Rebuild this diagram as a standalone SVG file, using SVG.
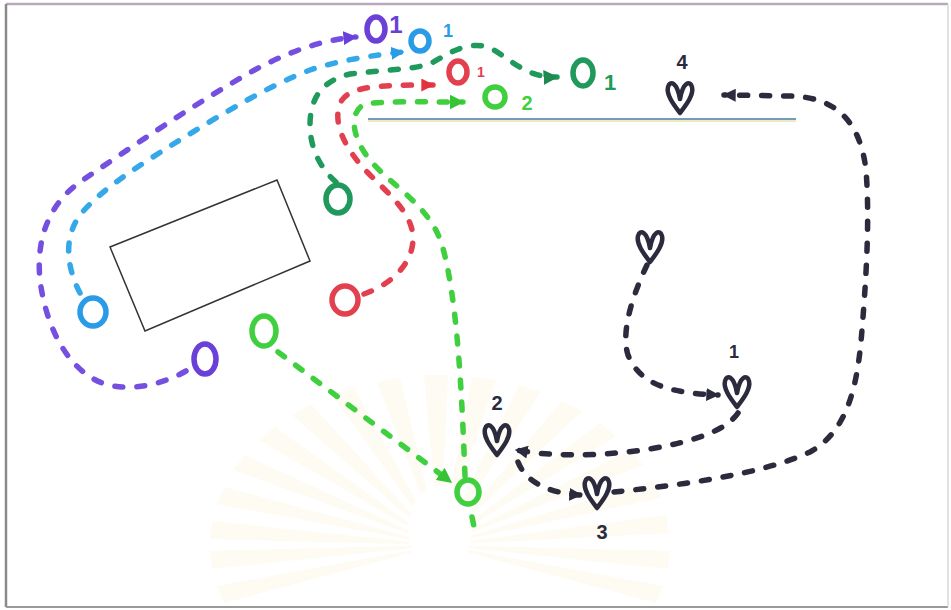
<svg xmlns="http://www.w3.org/2000/svg" xmlns:xlink="http://www.w3.org/1999/xlink" width="951" height="610" viewBox="0 0 951 610">
<style>
.o{fill:none;stroke-width:5.5}
.d{fill:none;stroke-width:5.5;stroke-linecap:round;stroke-dasharray:8 14}
.lbl{font-family:"Liberation Sans",Arial,sans-serif;font-weight:bold;text-anchor:middle}
.pu{stroke:#7550e0}.bl{stroke:#35a8ea}.dg{stroke:#1f9a5c}.rd{stroke:#e2404e}.lg{stroke:#3fcf3f}.bk{stroke:#2b2b3d}
</style>
<defs>
<path id="heart" d="M0,16 C-6,8 -14,-2 -12,-10 C-10,-17 -3,-15 0,2 C3,-15 10,-17 12,-10 C14,-2 6,8 0,16 Z" fill="none" stroke="#2b2b3d" stroke-width="4.5" stroke-linejoin="round"/>
<marker id="aPu" viewBox="0 0 10 10" refX="9" refY="5" markerUnits="userSpaceOnUse" markerWidth="14" markerHeight="14" orient="auto"><path d="M0,0 L10,5 L0,10 z" fill="#6a40d8"/></marker>
<marker id="aBl" viewBox="0 0 10 10" refX="9" refY="5" markerUnits="userSpaceOnUse" markerWidth="13" markerHeight="13" orient="auto"><path d="M0,0 L10,5 L0,10 z" fill="#2a9be6"/></marker>
<marker id="aDg" viewBox="0 0 10 10" refX="9" refY="5" markerUnits="userSpaceOnUse" markerWidth="15" markerHeight="15" orient="auto"><path d="M0,0 L10,5 L0,10 z" fill="#1f8a50"/></marker>
<marker id="aRd" viewBox="0 0 10 10" refX="9" refY="5" markerUnits="userSpaceOnUse" markerWidth="13" markerHeight="13" orient="auto"><path d="M0,0 L10,5 L0,10 z" fill="#e63040"/></marker>
<marker id="aLg" viewBox="0 0 10 10" refX="9" refY="5" markerUnits="userSpaceOnUse" markerWidth="15" markerHeight="15" orient="auto"><path d="M0,0 L10,5 L0,10 z" fill="#36c436"/></marker>
<marker id="aBk" viewBox="0 0 10 10" refX="9" refY="5" markerUnits="userSpaceOnUse" markerWidth="13" markerHeight="13" orient="auto"><path d="M0,0 L10,5 L0,10 z" fill="#2b2b3d"/></marker>
</defs>
<rect x="0" y="0" width="951" height="610" fill="#ffffff"/>
<g id="watermark" fill="#fdfbf2">
<path d="M440,545 L210,539 L212,521 Z M440,545 L217,504 L224,487 Z M440,545 L233,470 L245,455 Z M440,545 L259,440 L275,427 Z M440,545 L292,415 L311,404 Z M440,545 L332,395 L354,387 Z M440,545 L377,382 L400,378 Z M440,545 L424,375 L448,375 Z M440,545 L472,377 L496,380 Z M440,545 L519,385 L541,392 Z M440,545 L562,401 L582,411 Z M440,545 L600,423 L616,436 Z M440,545 L631,450 L643,465 Z M440,545 L653,481 L661,498 Z M440,545 L666,515 L669,533 Z M440,545 L670,551 L668,569 Z M440,545 L663,586 L656,603 Z M440,545 L212,569 L210,551 Z M440,545 L224,603 L217,586 Z"/>
<ellipse cx="440" cy="530" rx="32" ry="45" fill="#ffffff"/>
</g>
<g id="frame" fill="none">
<line x1="6" y1="4" x2="948" y2="4" stroke="#b9a8bb" stroke-width="2.5"/>
<line x1="6" y1="4" x2="6" y2="607" stroke="#8a8a8a" stroke-width="2.5"/>
<line x1="6" y1="607" x2="948" y2="607" stroke="#9a9a9a" stroke-width="2"/>
<line x1="948" y1="4" x2="948" y2="607" stroke="#d8d8d8" stroke-width="1.5"/>
</g>
<g id="table">
<polygon points="110,247 277,180 310,261 145,331" fill="none" stroke="#333" stroke-width="1.5"/>
</g>
<g id="counter">
<line x1="368" y1="119" x2="796" y2="119" stroke="#6f9fb8" stroke-width="2"/>
<line x1="368" y1="121" x2="796" y2="121" stroke="#e6d27a" stroke-width="1"/>
</g>
<g id="connectors">
<path class="d pu" d="M186,371 C160,386 120,395 92,378 C62,360 45,320 40,280 C36,240 48,205 80,182 C130,148 200,100 260,67 C290,52 320,40 356,37" marker-end="url(#aPu)"/>
<path class="d bl" d="M80,293 C68,270 62,240 80,215 C100,190 140,165 175,143 C220,115 270,85 310,70 C340,60 375,55 403,52" marker-end="url(#aBl)"/>
<path class="d dg" d="M336,182 C322,170 310,150 310,125 C310,95 325,80 350,74 C380,70 410,70 430,64 C450,52 470,40 490,48 C510,58 525,78 557,77" marker-end="url(#aDg)"/>
<path class="d rd" d="M364,294 C390,285 412,265 413,240 C414,215 390,195 370,175 C345,150 330,120 342,100 C352,86 380,85 433,85" marker-end="url(#aRd)"/>
<path class="d lg" d="M465,476 C462,400 458,300 442,245 C430,205 390,185 370,160 C352,138 348,112 365,104 C380,101 420,102 463,102" marker-end="url(#aLg)"/>
<path class="d lg" d="M472,517 L476,536"/>
<path class="d lg" d="M278,352 L451,482" marker-end="url(#aLg)"/>
<path class="d bk" d="M647,265 C635,290 620,330 628,355 C640,385 670,393 718,395" marker-end="url(#aBk)"/>
<path class="d bk" d="M738,413 C725,432 690,442 650,449 C610,455 560,458 516,450" marker-end="url(#aBk)"/>
<path class="d bk" d="M518,462 C525,480 545,493 581,495" marker-end="url(#aBk)"/>
<path class="d bk" d="M614,492 C680,485 760,475 810,452 C850,430 858,380 862,330 C866,280 870,220 866,170 C860,120 835,97 790,96 L724,95" marker-end="url(#aBk)"/>
</g>
<g id="o-purple-top"><ellipse class="o" cx="376" cy="29" rx="9" ry="12" stroke="#6a40d8"/><text class="lbl" x="396" y="33" font-size="24" fill="#6a40d8">1</text></g>
<g id="o-blue-top"><ellipse class="o" cx="420" cy="41" rx="9" ry="10" stroke="#2a9be6"/><text class="lbl" x="448" y="37" font-size="18" fill="#2a9be6">1</text></g>
<g id="o-red-top"><ellipse class="o" cx="458" cy="72" rx="9" ry="11" stroke="#e2404e"/><text class="lbl" x="481" y="77" font-size="14" fill="#e2404e">1</text></g>
<g id="o-darkgreen-top"><ellipse class="o" cx="583" cy="73" rx="10" ry="13" stroke="#1f9a5c"/><text class="lbl" x="610" y="90" font-size="22" fill="#1f9a5c">1</text></g>
<g id="o-lightgreen-top"><ellipse class="o" cx="495" cy="97" rx="10" ry="10" stroke="#3fcf3f"/><text class="lbl" x="527" y="110" font-size="20" fill="#3fcf3f">2</text></g>
<g id="o-blue"><ellipse class="o" cx="93" cy="312" rx="13" ry="14" stroke="#2a9be6"/></g>
<g id="o-purple"><ellipse class="o" cx="205" cy="359" rx="11" ry="15" stroke="#6a40d8"/></g>
<g id="o-darkgreen"><ellipse class="o" cx="338" cy="199" rx="12" ry="14" stroke="#1f9a5c"/></g>
<g id="o-red"><ellipse class="o" cx="345" cy="300" rx="13" ry="14" stroke="#e2404e"/></g>
<g id="o-lightgreen"><ellipse class="o" cx="264" cy="331" rx="12" ry="15" stroke="#3fcf3f"/></g>
<g id="o-lightgreen-bottom"><ellipse class="o" cx="468" cy="492" rx="11" ry="12" stroke="#3fcf3f"/></g>
<g id="heart-start"><use xlink:href="#heart" x="650" y="246"/></g>
<g id="heart-1"><use xlink:href="#heart" x="737" y="391"/><text class="lbl" x="734" y="358" font-size="18" fill="#2b2b3d">1</text></g>
<g id="heart-2"><use xlink:href="#heart" x="497" y="439"/><text class="lbl" x="497" y="410" font-size="20" fill="#2b2b3d">2</text></g>
<g id="heart-3"><use xlink:href="#heart" x="597" y="492"/><text class="lbl" x="602" y="539" font-size="20" fill="#2b2b3d">3</text></g>
<g id="heart-4"><use xlink:href="#heart" x="680" y="97"/><text class="lbl" x="682" y="69" font-size="20" fill="#2b2b3d">4</text></g>
</svg>
